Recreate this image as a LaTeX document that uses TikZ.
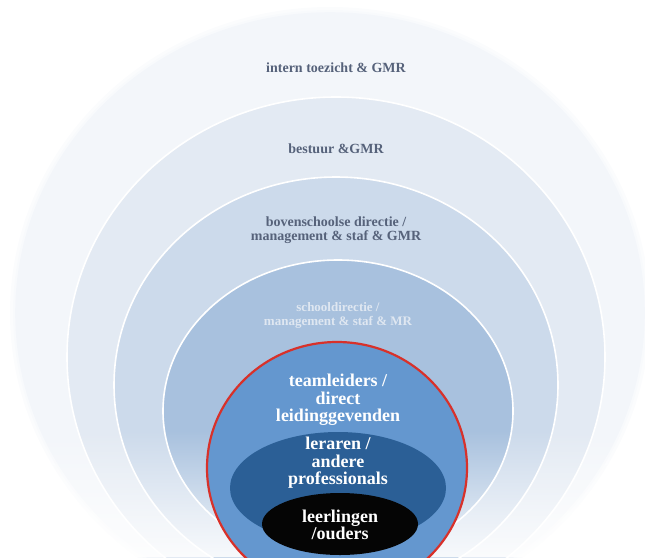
\documentclass[tikz,border=0pt]{standalone}
\usepackage{fontspec}
\setmainfont{Liberation Serif}
\usetikzlibrary{shapes.geometric}
\usetikzlibrary{fadings}
\definecolor{ringone}{HTML}{F3F6FA}
\definecolor{ringtwo}{HTML}{E3EAF3}
\definecolor{ringthree}{HTML}{CCDAEB}
\definecolor{ringfour}{HTML}{A8C1DE}
\definecolor{ringteam}{HTML}{6497CF}
\definecolor{ringstaff}{HTML}{2B5F96}
\definecolor{ringpupil}{HTML}{050505}
\definecolor{redline}{HTML}{D8312A}
\definecolor{greytext}{HTML}{56627A}
\definecolor{palete}{HTML}{DFE7F1}
\tikzstyle{ring}=[ellipse, inner sep=0pt, draw=white, line width=1.6pt]
\tikzstyle{core}=[ellipse, inner sep=0pt]
\tikzstyle{glow}=[ellipse, inner sep=0pt, fill=ringone, opacity=0.35]
\tikzstyle{outertext}=[align=center, text=greytext, font=\bfseries\fontsize{14}{14.5}\selectfont]
\tikzstyle{innertext}=[align=center, text=white, font=\bfseries\fontsize{18}{17.5}\selectfont]

\begin{document}
\begin{tikzpicture}[x=1pt, y=-1pt]
        \useasboundingbox (0, 0) rectangle (645, 557);
        \clip (0, 0) rectangle (645, 557);
        \node[glow, minimum width=640, minimum height=612] (G2) at (330, 313) {};
        \node[glow, minimum width=634, minimum height=606] (G1) at (330, 313) {};
        \node[ring, fill=ringone, draw=ringone, minimum width=628, minimum height=600] (L1) at (330, 313) {};
        \node[ring, fill=ringtwo, minimum width=538, minimum height=520] (L2) at (336, 357) {};
        \node[ring, fill=ringthree, minimum width=444, minimum height=416] (L3) at (336, 385) {};
        \node[ring, fill=ringfour, minimum width=350, minimum height=302] (L4) at (338, 411) {};
        \node[outertext] (T1) at (336, 68) {intern toezicht \& GMR};
        \node[outertext] (T2) at (336, 149) {bestuur \&GMR};
        \node[outertext] (T3) at (336, 230) {bovenschoolse directie /\\management \& staf \& GMR};
        \node[outertext, text=palete, font=\bfseries\fontsize{13}{14}\selectfont] (T4) at (338, 315) {schooldirectie /\\management \& staf \& MR};
        % soft fade at the bottom
        \fill[white, path fading=north, fill opacity=0.85] (0, 430) rectangle (645, 557);
        \node[core, fill=ringteam, draw=redline, line width=2.2pt, minimum width=260, minimum height=252] (Team) at (337, 468) {};
        \node[core, fill=ringstaff, minimum width=216, minimum height=112] (Staff) at (338, 488) {};
        \node[core, fill=ringpupil, minimum width=156, minimum height=62] (Pupil) at (340, 524) {};
        \node[innertext] (T5) at (338, 400) {teamleiders /\\direct\\leidinggevenden};
        \node[innertext] (T6) at (338, 463) {leraren /\\andere\\professionals};
        \node[innertext, font=\bfseries\fontsize{18}{16.5}\selectfont] (T7) at (340, 525) {leerlingen\\/ouders};
    \end{tikzpicture}
\end{document}
